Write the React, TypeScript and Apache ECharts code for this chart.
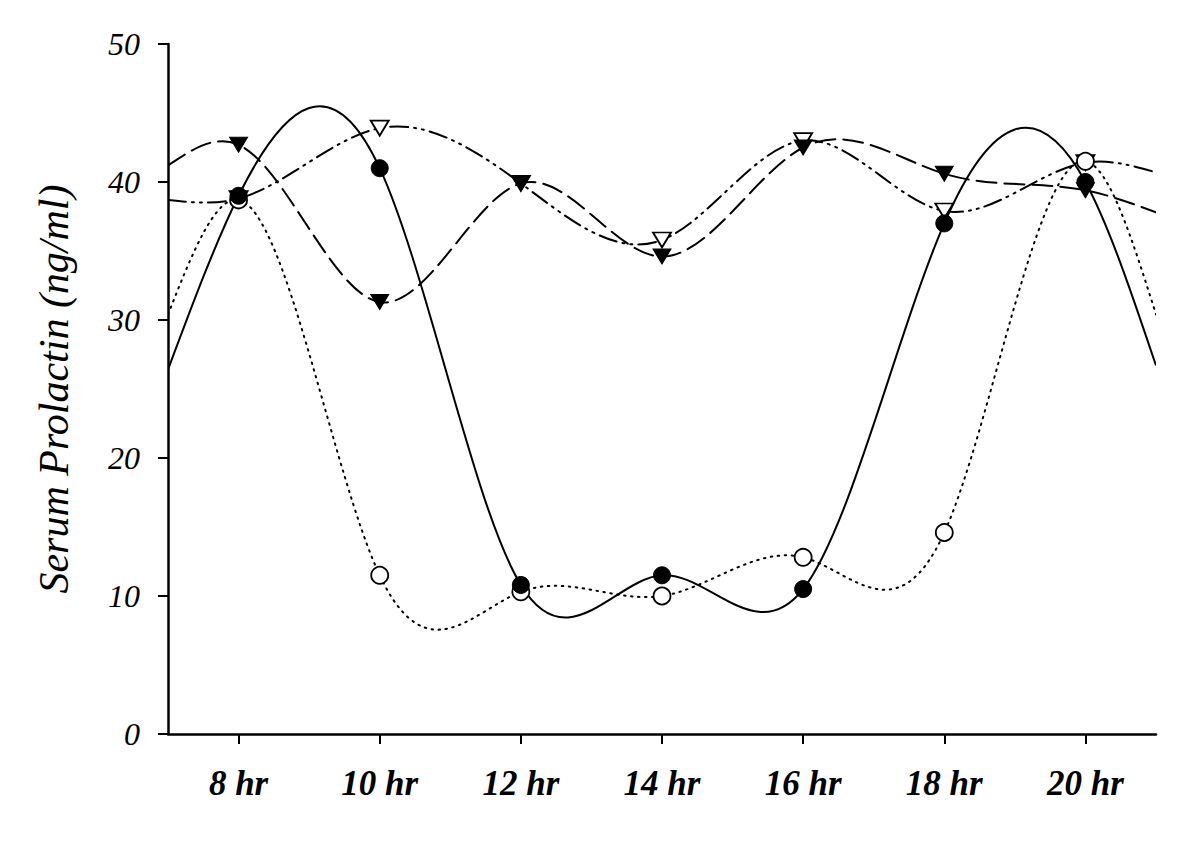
import React, { useEffect, useRef } from "react";
import * as echarts from "echarts";

// Sampling times (hours) and the axis edges where the fitted curves end
const hours = [8, 10, 12, 14, 16, 18, 20];
const edgeHours = [7, 21];
const xTickValues = [8, 10, 12, 14, 16, 18, 20];

// Series values (ng/ml)
const filledCircle = [39.0, 41.0, 10.8, 11.5, 10.5, 37.0, 40.0];
const filledCircleEdges = [26.4, 26.7];
const openCircle = [38.7, 11.5, 10.3, 10.0, 12.8, 14.6, 41.5];
const openCircleEdges = [30.4, 30.4];
const filledTriangle = [42.7, 31.3, 39.9, 34.6, 42.5, 40.6, 39.4];
const filledTriangleEdges = [41.2, 37.8];
const openTriangle = [38.8, 43.9, 39.9, 35.8, 43.0, 37.9, 41.4];
const openTriangleEdges = [38.7, 40.7];

const FONT = "'Liberation Serif', 'DejaVu Serif', serif";

function knots(values: number[], edges: number[]): number[][] {
  const pts: number[][] = [[edgeHours[0], edges[0]]];
  hours.forEach((h, i) => pts.push([h, values[i]]));
  pts.push([edgeHours[1], edges[1]]);
  return pts;
}

// Slopes of a natural cubic spline through the knots (used to draw the curve)
function splineSlopes(pts: number[][]): number[] {
  const n = pts.length;
  const xs = pts.map((p) => p[0]);
  const ys = pts.map((p) => p[1]);
  const h: number[] = [];
  for (let i = 0; i < n - 1; i++) h.push(xs[i + 1] - xs[i]);
  const a: number[] = [], b: number[] = [], c: number[] = [], d: number[] = [];
  for (let i = 1; i < n - 1; i++) {
    a.push(h[i - 1]);
    b.push(2 * (h[i - 1] + h[i]));
    c.push(h[i]);
    d.push(6 * ((ys[i + 1] - ys[i]) / h[i] - (ys[i] - ys[i - 1]) / h[i - 1]));
  }
  const m = a.length;
  for (let i = 1; i < m; i++) {
    const w = a[i] / b[i - 1];
    b[i] -= w * c[i - 1];
    d[i] -= w * d[i - 1];
  }
  const sol = new Array(m).fill(0);
  sol[m - 1] = d[m - 1] / b[m - 1];
  for (let i = m - 2; i >= 0; i--) sol[i] = (d[i] - c[i] * sol[i + 1]) / b[i];
  const M = [0, ...sol, 0];
  const slopes: number[] = [];
  for (let i = 0; i < n - 1; i++) {
    slopes.push((ys[i + 1] - ys[i]) / h[i] - (h[i] * (2 * M[i] + M[i + 1])) / 6);
  }
  slopes.push((ys[n - 1] - ys[n - 2]) / h[n - 2] + (h[n - 2] * (M[n - 2] + 2 * M[n - 1])) / 6);
  return slopes;
}

function curveSeries(pts: number[][], lineDash: number[] | null, z: number) {
  const slopes = splineSlopes(pts);
  return {
    type: "custom",
    coordinateSystem: "cartesian2d",
    data: pts,
    encode: { x: 0, y: 1 },
    clip: true,
    silent: true,
    z,
    renderItem: (params: any, api: any) => {
      if (params.dataIndex !== 0) return null;
      const p0 = api.coord(pts[0]);
      let d = `M${p0[0]} ${p0[1]}`;
      for (let i = 0; i < pts.length - 1; i++) {
        const [x0, y0] = pts[i];
        const [x1, y1] = pts[i + 1];
        const hh = x1 - x0;
        const c1 = api.coord([x0 + hh / 3, y0 + (slopes[i] * hh) / 3]);
        const c2 = api.coord([x1 - hh / 3, y1 - (slopes[i + 1] * hh) / 3]);
        const e = api.coord([x1, y1]);
        d += ` C${c1[0]} ${c1[1]} ${c2[0]} ${c2[1]} ${e[0]} ${e[1]}`;
      }
      return {
        type: "path",
        shape: { pathData: d },
        style: {
          fill: "none",
          stroke: "#000",
          lineWidth: 2,
          lineDash: lineDash || undefined,
          lineCap: lineDash ? "round" : "butt",
        },
      };
    },
  };
}

function markerSeries(values: number[], symbol: string, filled: boolean, z: number) {
  const isTri = symbol === "triangle";
  return {
    type: "scatter",
    data: hours.map((h, i) => [h, values[i]]),
    symbol,
    symbolRotate: isTri ? 180 : 0,
    symbolSize: isTri ? [18, 15] : 17,
    itemStyle: filled
      ? { color: "#000", borderColor: "#000", borderWidth: 1, opacity: 1 }
      : { color: "#fff", borderColor: "#000", borderWidth: 1.8, opacity: 1 },
    z,
  };
}

export default function App() {
  const ref = useRef<HTMLDivElement>(null);
  useEffect(() => {
    document.body.style.margin = "0";
    const chart = echarts.init(ref.current!, null, { renderer: "svg" });
    chart.setOption({
      animation: false,
      backgroundColor: "#ffffff",
      grid: { left: 168, right: 44, top: 44, bottom: 114, containLabel: false },
      xAxis: {
        type: "value",
        min: 7,
        max: 21,
        axisLine: { show: true, onZero: false, lineStyle: { color: "#000", width: 2.5 } },
        axisTick: {
          show: true,
          customValues: xTickValues,
          length: 10,
          lineStyle: { color: "#000", width: 2 },
        },
        axisLabel: {
          customValues: xTickValues,
          formatter: (v: number) => `${v} hr`,
          margin: 32,
          color: "#000",
          fontFamily: FONT,
          fontStyle: "italic",
          fontWeight: "bold",
          fontSize: 35,
        },
        splitLine: { show: false },
      },
      yAxis: {
        type: "value",
        min: 0,
        max: 50,
        interval: 10,
        name: "Serum Prolactin (ng/ml)",
        nameLocation: "middle",
        nameGap: 93,
        nameTextStyle: {
          color: "#000",
          fontFamily: FONT,
          fontStyle: "italic",
          fontSize: 42,
        },
        axisLine: { show: true, lineStyle: { color: "#000", width: 2.5 } },
        axisTick: {
          show: true,
          length: 10,
          lineStyle: { color: "#000", width: 2 },
        },
        axisLabel: {
          margin: 28,
          color: "#000",
          fontFamily: FONT,
          fontStyle: "italic",
          fontSize: 32,
        },
        splitLine: { show: false },
      },
      series: [
        curveSeries(knots(openTriangle, openTriangleEdges), [18, 6, 2, 6, 2, 6], 2),
        curveSeries(knots(filledTriangle, filledTriangleEdges), [20, 8], 2),
        curveSeries(knots(openCircle, openCircleEdges), [1.5, 5.5], 2),
        curveSeries(knots(filledCircle, filledCircleEdges), null, 2),
        markerSeries(openTriangle, "triangle", false, 5),
        markerSeries(filledTriangle, "triangle", true, 6),
        markerSeries(openCircle, "circle", false, 7),
        markerSeries(filledCircle, "circle", true, 8),
      ],
    });
    return () => chart.dispose();
  }, []);
  return <div ref={ref} style={{ width: 1200, height: 848 }} />;
}
